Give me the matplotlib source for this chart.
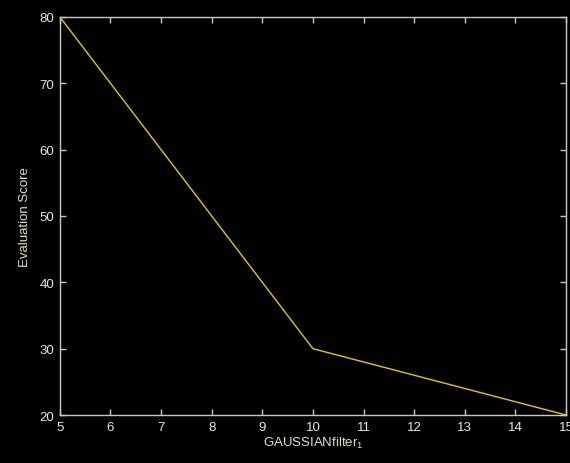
import matplotlib
matplotlib.use("Agg")
import matplotlib.pyplot as plt

# data
filter_size = [5, 10, 15]
score = [80, 30, 20]
x_ticks = list(range(5, 16))
y_ticks = list(range(20, 81, 10))

plt.rcParams["font.family"] = ["Liberation Sans", "DejaVu Sans"]
plt.rcParams["mathtext.fontset"] = "custom"
plt.rcParams["mathtext.rm"] = "Liberation Sans"
plt.rcParams["mathtext.it"] = "Liberation Sans"

fig = plt.figure(figsize=(5.7, 4.64), dpi=100, facecolor="black")
ax = fig.add_axes([0.105, 0.1034, 0.888, 0.858], facecolor="black")

ax.plot(filter_size, score, color="#e6c700", linewidth=1.0)

ax.set_xlim(5, 15)
ax.set_ylim(20, 80)
ax.set_xticks(x_ticks)
ax.set_yticks(y_ticks)

for s in ax.spines.values():
    s.set_color("#c8c8c8")
    s.set_linewidth(1.0)
ax.tick_params(direction="in", length=4, width=1, colors="#c8c8c8",
               top=True, right=True, labelsize=9.5, labelcolor="#e8e8dc", pad=4)

ax.set_xlabel("GAUSSIANfilter$_\\mathrm{1}$", color="#e2e2b8", fontsize=9.5, labelpad=2)
ax.set_ylabel("Evaluation Score", color="#e2e2b8", fontsize=9.5, labelpad=6)

fig.savefig("out.png", dpi=100, facecolor="black")
